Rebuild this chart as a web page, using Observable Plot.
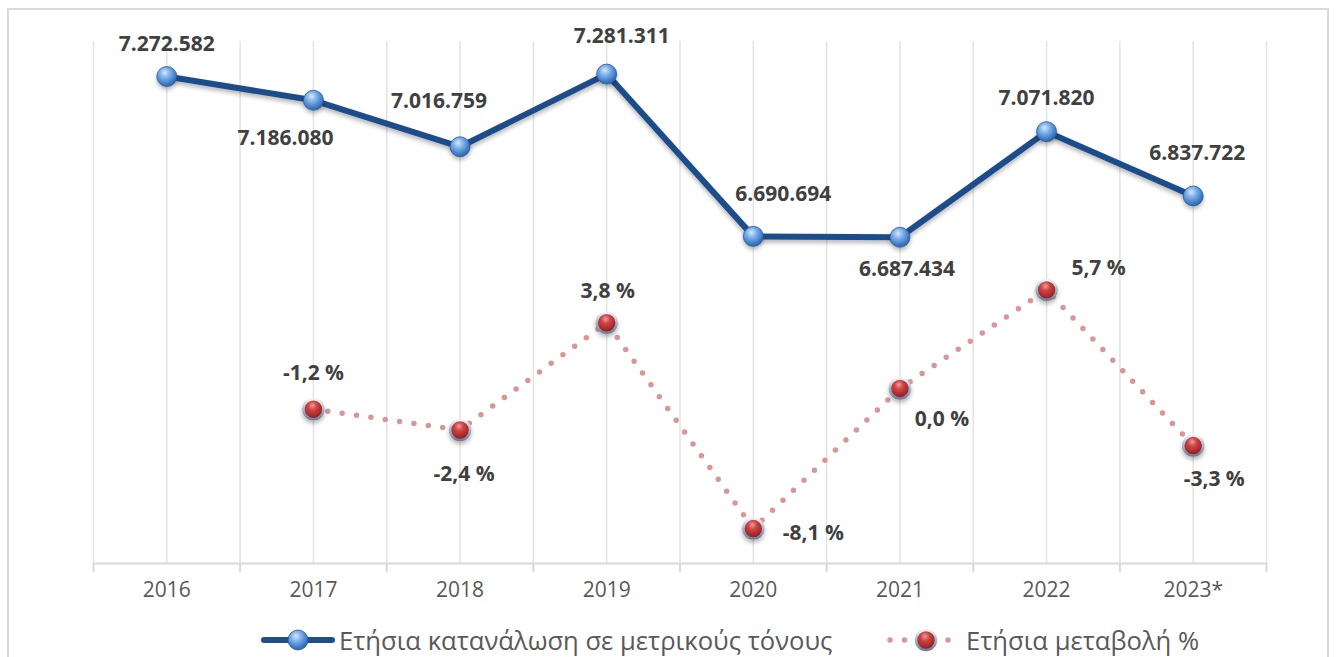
<!DOCTYPE html>
<html>
<head>
<meta charset="utf-8">
<script src="https://cdn.jsdelivr.net/npm/d3@7"></script>
<script src="https://cdn.jsdelivr.net/npm/@observablehq/plot@0.6"></script>
<style>
  html, body { margin: 0; padding: 0; background: #fff; width: 1336px; height: 657px; overflow: hidden; }
  #frame { position: absolute; left: 7px; top: 8px; width: 1322px; height: 700px; border: 2px solid #d9d9d9; box-sizing: border-box; }
  #chart { position: absolute; left: 0; top: 0; }
  #legend { position: absolute; left: 0; top: 622px; width: 1336px; height: 36px; font-family: "Open Sans", sans-serif; color: #595959; font-size: 25.6px; }
  .li { position: absolute; top: 0; display: flex; align-items: center; height: 36px; white-space: nowrap; }
  .li svg { display: block; }
</style>
</head>
<body>
<div id="frame"></div>
<div id="chart"></div>
<div id="legend"></div>
<script>
// ---- data ----
const years = ["2016", "2017", "2018", "2019", "2020", "2021", "2022", "2023*"];
const consumption = [7272582, 7186080, 7016759, 7281311, 6690694, 6687434, 7071820, 6837722];
const changePct = [null, -1.2, -2.4, 3.8, -8.1, 0.0, 5.7, -3.3];
const seriesNames = ["Ετήσια κατανάλωση σε μετρικούς τόνους", "Ετήσια μεταβολή %"];

// ---- placement of data labels (styling) ----
const volLabelOffsets = [[0, -32], [-28, 38], [-21, -46], [15, -38], [30, -42], [7, 32], [0, -33], [4, -43]];
const pctLabelOffsets = [null, [0, -36], [4, 44], [1, -31], [60, 5], [42, 31], [52, -22], [21, 34]];

const yDomain = [5500000, 7400000];   // primary axis (tonnes)
const pctDomain = [-10.12, 20.06];    // secondary axis (%)
const pctToY = d3.scaleLinear().domain(pctDomain).range(yDomain);

const loc = d3.formatLocale({decimal: ",", thousands: ".", grouping: [3], currency: ["", "€"], minus: "-"});
const fmtVol = loc.format(",d");
const fmtPct = v => loc.format(".1f")(v) + " %";

const rows = years.map((y, i) => ({i, year: y, vol: consumption[i], pct: changePct[i]}));
const pctRows = rows.filter(d => d.pct != null);

const centers = years.map((_, i) => i);
const bounds = d3.range(years.length + 1).map(i => i - 0.5);
const gridVals = d3.range(0, 2 * years.length + 1).map(k => k / 2 - 0.5);

const labelFont = {fontFamily: "Open Sans", fontSize: 21, fontWeight: "bold", fill: "#404040", textAnchor: "middle", lineAnchor: "middle"};

const volLabels = rows.map((d, k) => Plot.text([d], {
  x: "i", y: "vol", text: r => fmtVol(r.vol),
  dx: volLabelOffsets[k][0], dy: volLabelOffsets[k][1], ...labelFont
}));
const pctLabels = pctRows.map(d => Plot.text([d], {
  x: "i", y: r => pctToY(r.pct), text: r => fmtPct(r.pct),
  dx: pctLabelOffsets[d.i][0], dy: pctLabelOffsets[d.i][1], ...labelFont
}));

const chart = Plot.plot({
  width: 1336,
  height: 610,
  marginLeft: 93,
  marginRight: 70,
  marginTop: 41,
  marginBottom: 47,
  style: {background: "transparent", overflow: "visible"},
  x: {type: "linear", domain: [-0.5, years.length - 0.5], label: null},
  y: {domain: yDomain, axis: null},
  marks: [
    Plot.gridX(gridVals, {stroke: "#e3e3e3", strokeOpacity: 1, strokeWidth: 1.5}),
    Plot.ruleY([yDomain[0]], {stroke: "#d9d9d9", strokeWidth: 2}),
    Plot.axisX(bounds, {tickSize: 9, tickFormat: () => "", stroke: "#d9d9d9", strokeWidth: 2, label: null}),
    Plot.axisX(centers, {tickSize: 0, tickPadding: 19, tickFormat: i => years[i], fontSize: 21, fontFamily: "Open Sans", fill: "#595959", label: null}),
    Plot.line(pctRows, {x: "i", y: d => pctToY(d.pct), stroke: "#d99694", strokeWidth: 5.5, strokeDasharray: "0 14.5", strokeLinecap: "round"}),
    Plot.line(rows, {x: "i", y: "vol", stroke: "#1f4e8a", strokeWidth: 6, strokeLinejoin: "round", strokeLinecap: "round"}),
    Plot.dot(rows, {x: "i", y: "vol", r: 10, fill: "url(#blueBall)", stroke: "#2b5a96", strokeWidth: 0.8}),
    Plot.dot(pctRows, {x: "i", y: d => pctToY(d.pct), r: 10, fill: "url(#redBall)", stroke: "url(#silverRing)", strokeWidth: 2.6}),
    ...volLabels,
    ...pctLabels
  ]
});

const defs = `
<defs>
  <radialGradient id="blueBall" cx="42%" cy="35%" r="70%" fx="40%" fy="30%">
    <stop offset="0%" stop-color="#d6e8fb"/>
    <stop offset="35%" stop-color="#80b2ea"/>
    <stop offset="75%" stop-color="#3f7bc7"/>
    <stop offset="100%" stop-color="#2a5d9e"/>
  </radialGradient>
  <radialGradient id="redBall" cx="45%" cy="38%" r="65%" fx="45%" fy="30%">
    <stop offset="0%" stop-color="#f09a9a"/>
    <stop offset="35%" stop-color="#cc4444"/>
    <stop offset="80%" stop-color="#9e2424"/>
    <stop offset="100%" stop-color="#7a1616"/>
  </radialGradient>
  <linearGradient id="silverRing" x1="0" y1="0" x2="0" y2="1">
    <stop offset="0%" stop-color="#eef2f8"/>
    <stop offset="50%" stop-color="#a9b6ca"/>
    <stop offset="100%" stop-color="#6f7f99"/>
  </linearGradient>
  <filter id="shadow" x="-10%" y="-20%" width="120%" height="150%">
    <feDropShadow dx="0" dy="3" stdDeviation="2" flood-color="#000" flood-opacity="0.28"/>
  </filter>
</defs>`;
chart.insertAdjacentHTML("afterbegin", defs);
const lineGroups = chart.querySelectorAll('g[aria-label="line"]');
if (lineGroups[1]) lineGroups[1].setAttribute("filter", "url(#shadow)");
const dotGroups = chart.querySelectorAll('g[aria-label="dot"]');
dotGroups.forEach(g => g.setAttribute("filter", "url(#shadow)"));

document.getElementById("chart").appendChild(chart);

// ---- legend (HTML under the plot) ----
const legend = document.getElementById("legend");
legend.innerHTML = `
  <div class="li" style="left:260px">
    <svg width="76" height="30" viewBox="0 0 76 30">
      <line x1="4" y1="15" x2="72" y2="15" stroke="#1f4e8a" stroke-width="6" stroke-linecap="round"/>
      <circle cx="38" cy="15" r="10" fill="url(#blueBall)" stroke="#2b5a96" stroke-width="0.8"/>
    </svg>
    <span style="margin-left:3px">${seriesNames[0]}</span>
  </div>
  <div class="li" style="left:884px">
    <svg width="76" height="30" viewBox="0 0 76 30">
      <line x1="6" y1="15" x2="72" y2="15" stroke="#d99694" stroke-width="5.5" stroke-dasharray="0 14.5" stroke-linecap="round"/>
      <circle cx="42" cy="15" r="10" fill="url(#redBall)" stroke="url(#silverRing)" stroke-width="2.6"/>
    </svg>
    <span style="margin-left:6px">${seriesNames[1]}</span>
  </div>`;
</script>
</body>
</html>
